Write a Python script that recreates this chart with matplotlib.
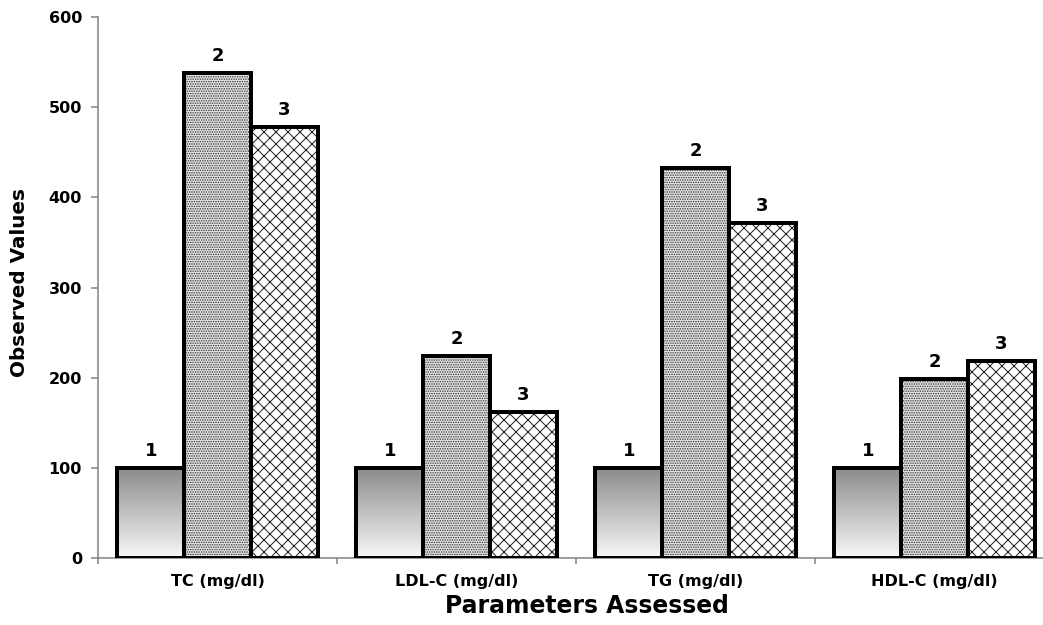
import numpy as np
import matplotlib.pyplot as plt
from matplotlib.colors import LinearSegmentedColormap

# dados
parametros = ['TC (mg/dl)', 'LDL-C (mg/dl)', 'TG (mg/dl)', 'HDL-C (mg/dl)']
grupo1 = [100, 100, 100, 100]
grupo2 = [538, 224, 433, 199]
grupo3 = [478, 162, 371, 218]
rotulos = ['1', '2', '3']

plt.rcParams['font.family'] = 'DejaVu Sans'
plt.rcParams['font.weight'] = 'bold'
plt.rcParams['hatch.linewidth'] = 1.0

fig = plt.figure(figsize=(1043 / 72, 625 / 72), dpi=72)
ax = fig.add_axes([98 / 1043, 67 / 625, 956 / 1043, 541 / 625])

x = np.arange(len(parametros))
w = 0.279
cinza = '#808080'

# grupo 1: gradiente cinza -> branco
cmap = LinearSegmentedColormap.from_list('grad', ['#f8f8f8', '#8a8a8a'])
barras1 = ax.bar(x - w, grupo1, w, fill=False, edgecolor='black', linewidth=4, zorder=3)
grad = np.linspace(0, 1, 256).reshape(-1, 1)
for b in barras1:
    x0, h = b.get_x(), b.get_height()
    im = ax.imshow(grad, extent=[x0, x0 + w, 0, h], origin='lower', cmap=cmap,
                   aspect='auto', zorder=2)
    im.set_clip_path(b)

# grupo 2: pontilhado
ax.bar(x, grupo2, w, facecolor='#e4e4e4', edgecolor='#333333', hatch='.....', linewidth=0, zorder=2)
ax.bar(x, grupo2, w, fill=False, edgecolor='black', linewidth=4, zorder=3)

# grupo 3: quadriculado diagonal
ax.bar(x + w, grupo3, w, facecolor='white', edgecolor='#222222', hatch='xx', linewidth=0, zorder=2)
ax.bar(x + w, grupo3, w, fill=False, edgecolor='black', linewidth=4, zorder=3)

# numeros acima das barras
for j, serie in enumerate([grupo1, grupo2, grupo3]):
    for i, v in enumerate(serie):
        ax.annotate(rotulos[j], (x[i] + (j - 1) * w, v), xytext=(0, 12),
                    textcoords='offset points', ha='center', va='baseline',
                    fontsize=18, fontweight='bold')

ax.set_xlim(-0.5, 3.5)
ax.set_ylim(0, 600)
ax.set_yticks(range(0, 601, 100))
ax.set_xticks(np.arange(-0.5, 4, 1))
ax.set_xticklabels([])
ax.set_xticks(x, minor=True)
ax.set_xticklabels(parametros, minor=True)
ax.tick_params(axis='x', which='minor', length=0, pad=16, labelsize=16)
ax.tick_params(axis='x', which='major', length=6, color=cinza, width=1.5)
ax.tick_params(axis='y', length=7, color=cinza, width=1.5, pad=9, labelsize=16)

for s in ['top', 'right']:
    ax.spines[s].set_visible(False)
for s in ['left', 'bottom']:
    ax.spines[s].set_color(cinza)
    ax.spines[s].set_linewidth(1.5)

ax.set_xlabel('Parameters Assessed', fontsize=23.5, fontweight='bold')
ax.xaxis.set_label_coords(0.5115, -0.0887)
ax.xaxis.label.set_va('center')
ax.set_ylabel('Observed Values', fontsize=20, fontweight='bold')
ax.yaxis.set_label_coords(-0.0816, 0.51)
ax.yaxis.label.set_va('center')

fig.savefig('out.png', dpi=72)
plt.close()
